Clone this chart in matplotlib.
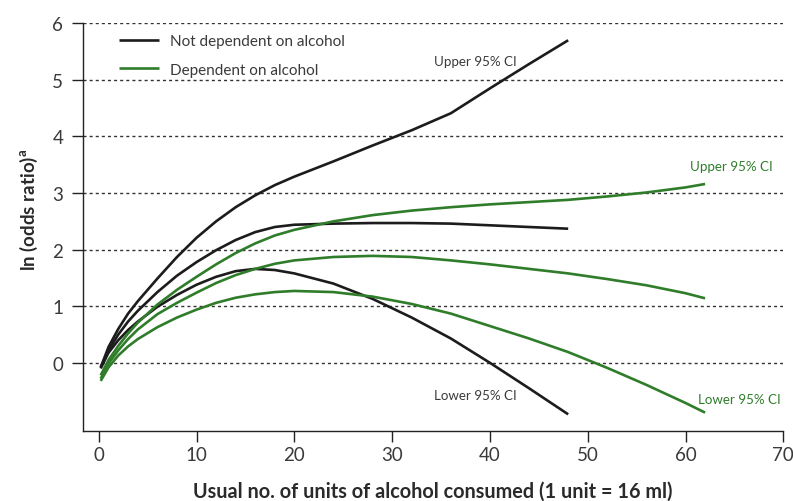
#!/usr/bin/env python3

import matplotlib
matplotlib.use("Agg")
import matplotlib.pyplot as plt


# units of alcohol (x) for the two groups
X_NOT = [0.2, 1, 2, 3, 4, 6, 8, 10, 12, 14, 16, 18, 20, 24, 28, 32, 36, 40, 44, 48]
X_DEP = [0.2, 1, 2, 3, 4, 6, 8, 10, 12, 14, 16, 18, 20, 24, 28, 32, 36, 40, 44, 48,
         52, 56, 60, 62]

# not dependent on alcohol: upper CI, estimate, lower CI
NOT_UPPER = [-0.08, 0.28, 0.60, 0.87, 1.09, 1.49, 1.87, 2.21, 2.50, 2.75, 2.96, 3.14,
             3.29, 3.56, 3.84, 4.11, 4.41, 4.85, 5.28, 5.70]
NOT_MID = [-0.08, 0.22, 0.50, 0.73, 0.92, 1.25, 1.54, 1.78, 1.99, 2.17, 2.31, 2.40,
           2.44, 2.46, 2.47, 2.47, 2.46, 2.43, 2.40, 2.37]
NOT_LOWER = [-0.10, 0.18, 0.40, 0.58, 0.73, 0.99, 1.20, 1.38, 1.52, 1.62, 1.66, 1.64,
             1.58, 1.40, 1.13, 0.80, 0.43, 0.00, -0.45, -0.91]

# dependent on alcohol: upper CI, estimate, lower CI
DEP_UPPER = [-0.22, 0.05, 0.30, 0.52, 0.71, 1.03, 1.29, 1.52, 1.74, 1.94, 2.11, 2.25,
             2.35, 2.50, 2.61, 2.69, 2.75, 2.80, 2.84, 2.88, 2.94, 3.01, 3.10, 3.16]
DEP_MID = [-0.28, -0.01, 0.22, 0.42, 0.59, 0.86, 1.06, 1.24, 1.41, 1.55, 1.66, 1.75,
           1.81, 1.87, 1.89, 1.87, 1.81, 1.74, 1.66, 1.58, 1.48, 1.37, 1.23, 1.14]
DEP_LOWER = [-0.32, -0.08, 0.13, 0.29, 0.42, 0.63, 0.80, 0.94, 1.06, 1.15, 1.21, 1.25,
             1.27, 1.25, 1.17, 1.04, 0.87, 0.65, 0.43, 0.19, -0.09, -0.39, -0.71, -0.88]

XTICKS = [0, 10, 20, 30, 40, 50, 60, 70]
YTICKS = [0, 1, 2, 3, 4, 5, 6]

BLACK = "#1c1c1c"
GREEN = "#2f7d2a"
TEXT = "#3a3a3a"


if __name__ == "__main__":
    plt.rcParams["font.family"] = ["Lato", "DejaVu Sans"]

    fig = plt.figure(figsize=(7.93, 5.02), dpi=100)
    ax = fig.add_axes([0.1043, 0.140, 0.8835, 0.8116])

    lw = 1.9
    kw = dict(lw=lw, solid_capstyle="butt", solid_joinstyle="round")
    ax.plot(X_NOT, NOT_UPPER, color=BLACK, label="Not dependent on alcohol", **kw)
    ax.plot(X_NOT, NOT_MID, color=BLACK, **kw)
    ax.plot(X_NOT, NOT_LOWER, color=BLACK, **kw)
    ax.plot(X_DEP, DEP_UPPER, color=GREEN, label="Dependent on alcohol", **kw)
    ax.plot(X_DEP, DEP_MID, color=GREEN, **kw)
    ax.plot(X_DEP, DEP_LOWER, color=GREEN, **kw)

    for y in YTICKS:
        ax.axhline(y, color="#333333", lw=1.0, ls=(0, (2.2, 2.2)), zorder=0)

    ax.set_xlim(-1.64, 70)
    ax.set_ylim(-1.2, 6)
    ax.set_xticks(XTICKS)
    ax.set_yticks(YTICKS)
    for s in ["top", "right"]:
        ax.spines[s].set_visible(False)
    for s in ["left", "bottom"]:
        ax.spines[s].set_color("#222222")
        ax.spines[s].set_linewidth(1.0)
    ax.tick_params(axis="both", colors="#222222", labelcolor=TEXT, labelsize=13.5,
                   length=8, width=1.0)
    ax.tick_params(axis="y", pad=6)
    ax.tick_params(axis="x", pad=3)

    ax.text(38.5, 5.33, "Upper 95% CI", color=TEXT, fontsize=9.6, ha="center", va="center")
    ax.text(38.5, -0.56, "Lower 95% CI", color=TEXT, fontsize=9.6, ha="center", va="center")
    ax.text(64.7, 3.48, "Upper 95% CI", color=GREEN, fontsize=9.6, ha="center", va="center")
    ax.text(65.5, -0.64, "Lower 95% CI", color=GREEN, fontsize=9.6, ha="center", va="center")

    ax.set_xlabel("Usual no. of units of alcohol consumed (1 unit = 16 ml)",
                  fontsize=14.3, fontweight="bold", color="#2a2a2a", labelpad=13)
    ax.set_ylabel("ln (odds ratio)$^{\\mathregular{a}}$", fontsize=13.5,
                  fontweight="bold", color="#2a2a2a")
    ax.yaxis.set_label_coords(-0.061, 0.544)

    ax.legend(loc="upper left", bbox_to_anchor=(0.037, 1.0), frameon=False,
              fontsize=11, handlelength=2.6, handletextpad=0.72, labelspacing=0.95,
              labelcolor=TEXT, borderaxespad=0.3)

    fig.savefig("out.png", dpi=100)
